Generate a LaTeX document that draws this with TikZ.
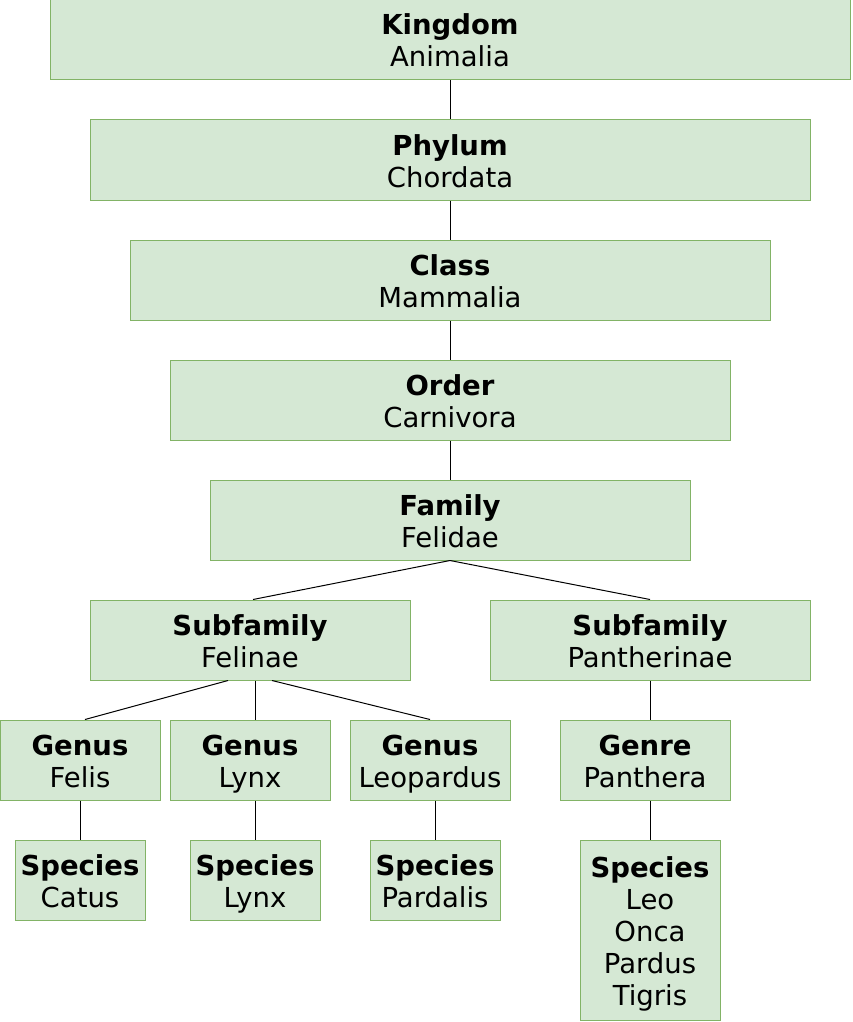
\documentclass[tikz,border=0pt]{standalone}
\usepackage{fontspec}
\setmainfont{DejaVu Sans}
\definecolor{boxfill}{HTML}{D5E8D4}
\definecolor{boxline}{HTML}{82B366}
\newcommand{\txline}[1]{\rule[-5pt]{0pt}{32pt}\smash{#1}}
\begin{document}
\begin{tikzpicture}[x=1pt,y=-1pt,
  taxbox/.style={draw=boxline,fill=boxfill,line width=1pt,inner sep=0pt,align=center,
    font=\fontsize{27.5}{32}\selectfont},
  link/.style={draw=black,line width=1pt}]
\useasboundingbox (0,0) rectangle (852,1022);
\node[taxbox,minimum width=800pt,minimum height=80pt] (kingdom) at (450,40) {\txline{\textbf{Kingdom}}\\\txline{Animalia}};
\node[taxbox,minimum width=720pt,minimum height=80pt] (phylum) at (450,160) {\txline{\textbf{Phylum}}\\\txline{Chordata}};
\node[taxbox,minimum width=640pt,minimum height=80pt] (class) at (450,280) {\txline{\textbf{Class}}\\\txline{Mammalia}};
\node[taxbox,minimum width=560pt,minimum height=80pt] (order) at (450,400) {\txline{\textbf{Order}}\\\txline{Carnivora}};
\node[taxbox,minimum width=480pt,minimum height=80pt] (family) at (450,520) {\txline{\textbf{Family}}\\\txline{Felidae}};
\node[taxbox,minimum width=320pt,minimum height=80pt] (felinae) at (250,640) {\txline{\textbf{Subfamily}}\\\txline{Felinae}};
\node[taxbox,minimum width=320pt,minimum height=80pt] (pantherinae) at (650,640) {\txline{\textbf{Subfamily}}\\\txline{Pantherinae}};
\node[taxbox,minimum width=160pt,minimum height=80pt] (felis) at (80,760) {\txline{\textbf{Genus}}\\\txline{Felis}};
\node[taxbox,minimum width=160pt,minimum height=80pt] (glynx) at (250,760) {\txline{\textbf{Genus}}\\\txline{Lynx}};
\node[taxbox,minimum width=160pt,minimum height=80pt] (leopardus) at (430,760) {\txline{\textbf{Genus}}\\\txline{Leopardus}};
\node[taxbox,minimum width=170pt,minimum height=80pt] (panthera) at (645,760) {\txline{\textbf{Genre}}\\\txline{Panthera}};
\node[taxbox,minimum width=130pt,minimum height=80pt] (catus) at (80,880) {\txline{\textbf{Species}}\\\txline{Catus}};
\node[taxbox,minimum width=130pt,minimum height=80pt] (slynx) at (255,880) {\txline{\textbf{Species}}\\\txline{Lynx}};
\node[taxbox,minimum width=130pt,minimum height=80pt] (pardalis) at (435,880) {\txline{\textbf{Species}}\\\txline{Pardalis}};
\node[taxbox,minimum width=140pt,minimum height=180pt] (leo) at (650,930) {\txline{\textbf{Species}}\\\txline{Leo}\\\txline{Onca}\\\txline{Pardus}\\\txline{Tigris}};
\draw[link] (kingdom.south) -- (phylum.north);
\draw[link] (phylum.south) -- (class.north);
\draw[link] (class.south) -- (order.north);
\draw[link] (order.south) -- (family.north);
\draw[link] (family.south) -- ([xshift=3pt]felinae.north);
\draw[link] (family.south) -- (pantherinae.north);
\draw[link] ([xshift=-22pt]felinae.south) -- ([xshift=5pt]felis.north);
\draw[link] ([xshift=5pt]felinae.south) -- ([xshift=5pt]glynx.north);
\draw[link] ([xshift=22pt]felinae.south) -- (leopardus.north);
\draw[link] (pantherinae.south) -- ([xshift=5pt]panthera.north);
\draw[link] (felis.south) -- (catus.north);
\draw[link] ([xshift=5pt]glynx.south) -- (slynx.north);
\draw[link] ([xshift=5pt]leopardus.south) -- (pardalis.north);
\draw[link] ([xshift=5pt]panthera.south) -- (leo.north);
\end{tikzpicture}
\end{document}
